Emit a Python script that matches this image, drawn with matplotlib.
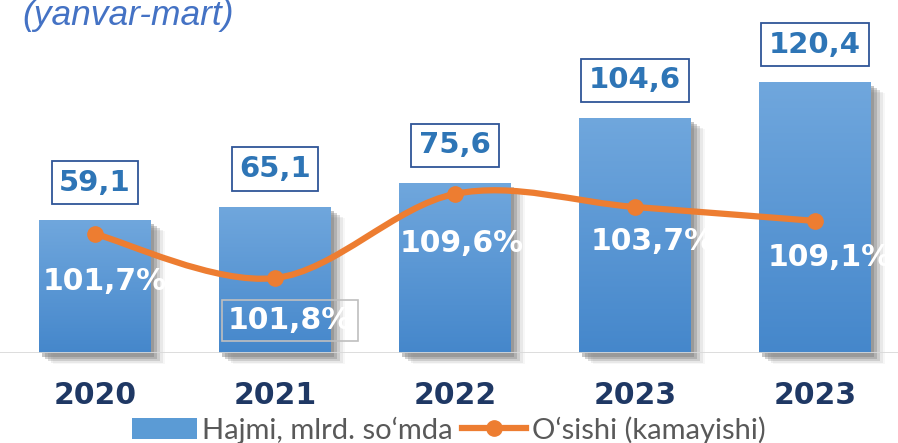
import numpy as np
import matplotlib.pyplot as plt
import matplotlib.transforms as mtransforms
from matplotlib.colors import LinearSegmentedColormap
from matplotlib.path import Path
from matplotlib.patches import PathPatch, Patch
from matplotlib.lines import Line2D

years = ['2020', '2021', '2022', '2023', '2023']
volume = [59.1, 65.1, 75.6, 104.6, 120.4]
volume_labels = ['59,1', '65,1', '75,6', '104,6', '120,4']
growth_labels = ['101,7%', '101,8%', '109,6%', '103,7%', '109,1%']
# heights of the growth markers as they sit in the picture (bar scale)
growth_pos = [52.9, 33.3, 70.7, 64.9, 58.7]

blue_top = '#70A7DD'
blue_bottom = '#4587CB'
orange = '#ED7D31'

fig = plt.figure(figsize=(8.98, 4.43), dpi=100)
ax = fig.add_axes([0, 90 / 443, 1, 353 / 443])
ax.axis('off')

x = np.arange(len(years))
width = 0.617

# shadows (a few shifted grey copies to fake the blur)
for dx, dy, a in [(3, -4, 0.45), (6, -6, 0.35), (9, -8, 0.25), (12, -10, 0.12), (14, -11, 0.06)]:
    tr = mtransforms.offset_copy(ax.transData, fig=fig, x=dx, y=dy, units='dots')
    ax.bar(x, volume, width, color='#7F7F7F', alpha=a, transform=tr, zorder=1, clip_on=False)

# gradient bars
cmap = LinearSegmentedColormap.from_list('bl', [blue_bottom, blue_top])
grad = np.linspace(0, 1, 256).reshape(-1, 1)
bars = ax.bar(x, volume, width, color='none', zorder=2)
for b in bars:
    x0, w, h = b.get_x(), b.get_width(), b.get_height()
    im = ax.imshow(grad, cmap=cmap, origin='lower', aspect='auto',
                   extent=(x0, x0 + w, 0, h), zorder=2)
    im.set_clip_path(b)
ax.set_xlim(-95 / 180, 4 + 83 / 180)
ax.set_ylim(0, 353 / 2.25)

ax.axhline(0, color='#D9D9D9', lw=2, zorder=3)

# smoothed growth line (Catmull-Rom -> Bezier)
pts = np.column_stack([x, growth_pos]).astype(float)
p = np.vstack([pts[0], pts, pts[-1]])
verts = [tuple(pts[0])]
codes = [Path.MOVETO]
for i in range(1, len(p) - 2):
    c1 = p[i] + (p[i + 1] - p[i - 1]) / 6
    c2 = p[i + 1] - (p[i + 2] - p[i]) / 6
    verts += [tuple(c1), tuple(c2), tuple(p[i + 1])]
    codes += [Path.CURVE4] * 3
ax.add_patch(PathPatch(Path(verts, codes), fc='none', ec=orange, lw=4.5,
                       capstyle='round', zorder=4))
ax.plot(x, growth_pos, 'o', color=orange, ms=11, zorder=5)

# value labels in boxes
for i, (v, lab) in enumerate(zip(volume, volume_labels)):
    ax.annotate(lab, (i, v), xytext=(0, 27), textcoords='offset points',
                ha='center', va='center', fontsize=21, fontweight='bold',
                color='#2E75B6', zorder=6,
                bbox=dict(boxstyle='square,pad=0.26', fc='white', ec='#2F5597', lw=1.3))

# growth labels
offsets = [(10, -48), (15, -42), (7, -50), (18, -35), (15, -37)]
for i, (yv, lab, (dx, dy)) in enumerate(zip(growth_pos, growth_labels, offsets)):
    kw = {}
    if i == 1:
        kw['bbox'] = dict(boxstyle='square,pad=0.2', fc='none', ec='#BFBFBF', lw=1.2)
    ax.annotate(lab, (i, yv), xytext=(dx * 0.72, dy * 0.72), textcoords='offset points',
                ha='center', va='center', fontsize=21.5, fontweight='bold',
                color='white', zorder=6, **kw)

# year labels
for i, y in enumerate(years):
    ax.text(i, 0, y, transform=mtransforms.offset_copy(ax.transData, fig=fig, y=-42, units='dots'),
            ha='center', va='center', fontsize=21.5, fontweight='bold', color='#1F3864')

fig.text(22 / 898, 1 - 25 / 443, '(yanvar-mart)', family='Liberation Sans', style='italic',
         fontsize=25.5, color='#4472C4', va='baseline', ha='left')

handles = [Patch(facecolor='#5B9BD5', edgecolor='none'),
           Line2D([], [], color=orange, lw=4.5, marker='o', ms=11)]
fig.legend(handles, ['Hajmi, mlrd. so‘mda', 'O‘sishi (kamayishi)'], loc='center',
           bbox_to_anchor=(0.5, 1 - 430 / 443), ncol=2, frameon=False,
           prop={'family': 'Lato', 'size': 21}, labelcolor='#595959',
           handlelength=2.2, handleheight=0.75, handletextpad=0.2, columnspacing=0.3,
           borderpad=0)

fig.savefig('out.png', dpi=100)
